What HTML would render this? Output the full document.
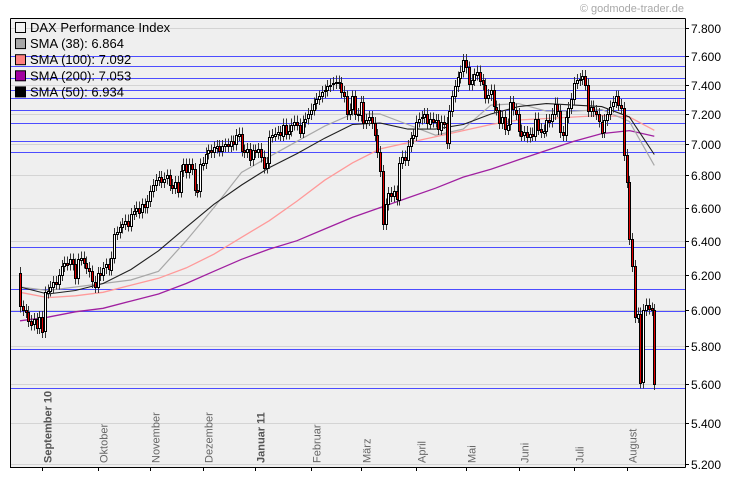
<!DOCTYPE html>
<html><head><meta charset="utf-8">
<style>
html,body{margin:0;padding:0;background:#fff;}
svg{display:block;font-family:"Liberation Sans",Arial,sans-serif;}
</style></head>
<body>
<svg id="chart" width="730" height="481" viewBox="0 0 730 481">
  <rect x="10" y="18" width="675" height="449" fill="#efefef"/>
  <g id="grid" shape-rendering="crispEdges"></g>
  <g id="blue" shape-rendering="crispEdges"></g>
  <g id="smas"></g>
  <g id="candles" shape-rendering="crispEdges"></g>
  <g id="axis" shape-rendering="crispEdges"></g>
  <g id="legend"></g>
  <text x="684" y="12" text-anchor="end" font-size="11" fill="#a8a8a8">© godmode-trader.de</text>
</svg>
<script>
const yTicks=[7800,7600,7400,7200,7000,6800,6600,6400,6200,6000,5800,5600,5400,5200];
const blueLevels=[7600,7526,7444,7363,7305,7227,7141,7020,6953,6365,6120,5993,5789,5582];
const firstOpen=6210;
const closes=[6020,6000,5990,5940,5920,5950,5900,5960,5880,6100,6110,6130,6160,6150,6200,6250,6270,6260,6290,6260,
6180,6290,6300,6270,6240,6220,6160,6130,6210,6200,6240,6260,6230,6300,6440,6450,6480,6500,6520,6490,
6560,6580,6600,6570,6620,6600,6640,6700,6740,6770,6790,6760,6780,6800,6740,6720,6760,6700,6830,6870,
6820,6870,6840,6710,6700,6870,6880,6940,6960,6950,6980,6990,6960,6990,7000,6990,7020,7000,7060,7070,
6960,6950,6970,6900,6960,6950,6970,6920,6850,6880,7050,7060,7070,7080,7060,7130,7070,7090,7130,7150,
7130,7080,7150,7170,7200,7230,7270,7300,7320,7350,7360,7390,7400,7410,7420,7410,7350,7320,7200,7230,
7320,7200,7190,7280,7140,7160,7180,7140,7060,6950,6830,6500,6620,6690,6670,6700,6650,6880,6920,6900,
6990,7040,7060,7150,7170,7180,7200,7140,7170,7150,7160,7100,7150,7140,7010,7220,7320,7390,7450,7490,
7570,7520,7400,7430,7470,7490,7430,7400,7310,7330,7360,7250,7230,7140,7180,7100,7130,7280,7230,7200,
7090,7060,7080,7050,7070,7060,7170,7100,7080,7090,7160,7150,7200,7270,7220,7080,7060,7180,7240,7300,
7410,7430,7440,7460,7400,7220,7250,7220,7200,7150,7080,7160,7200,7250,7280,7320,7260,7240,6930,6760,
6410,6250,5960,5980,5610,6000,6030,6010,6000,5600];
const smaIdx=[0,10,20,30,40,50,60,70,80,90,100,110,120,130,140,150,160,170,180,190,200,210,220,229];
const sma38=[6130,6110,6130,6150,6170,6220,6400,6600,6820,6920,7020,7120,7200,7200,7130,7060,7100,7260,7270,7220,7220,7230,7150,6864];
const sma100=[6100,6070,6080,6100,6140,6180,6240,6320,6420,6520,6640,6770,6880,6970,7010,7050,7090,7130,7160,7170,7180,7190,7180,7092];
const sma200=[5940,5960,5990,6010,6050,6090,6150,6220,6290,6350,6400,6470,6540,6600,6660,6720,6790,6840,6900,6960,7020,7070,7090,7053];
const sma50=[6130,6090,6110,6150,6230,6340,6480,6620,6740,6850,6940,7040,7130,7140,7100,7100,7130,7200,7250,7270,7260,7250,7180,6934];
const months=["September 10","Oktober","November","Dezember","Januar 11","Februar","März","April","Mai","Juni","Juli","August"];
const monthIdx=[8,28,47,66,85,105,123,143,161,180,200,219];
const monthBold=[true,false,false,false,true,false,false,false,false,false,false,false];

const NS="http://www.w3.org/2000/svg";
const Y=v=>28+Math.log(7800/v)*1075;
const X=i=>20+i*2.77;
function mk(tag,attrs,parent){const e=document.createElementNS(NS,tag);for(const k in attrs)e.setAttribute(k,attrs[k]);parent.appendChild(e);return e;}
const grid=document.getElementById('grid'),blue=document.getElementById('blue'),smas=document.getElementById('smas'),cg=document.getElementById('candles'),ax=document.getElementById('axis'),lg=document.getElementById('legend');

yTicks.forEach(v=>{
  const y=Math.round(Y(v))+0.5;
  const l=mk('line',{x1:10,x2:685,y1:y,y2:y,stroke:'#d4d4d4','stroke-width':1},grid);
  
  
  const t=mk('line',{x1:685,x2:689,y1:y,y2:y,stroke:'#000'},ax);
  
  
  const tx=mk('text',{x:691,y:y+4.5,'font-size':12,fill:'#000'},ax);
  tx.textContent=(v/1000).toFixed(3);
  
  
});
blueLevels.forEach(v=>{
  const y=Math.round(Y(v))+0.5;
  const l=mk('line',{x1:10,x2:685,y1:y,y2:y,stroke:'#4c4cff','stroke-width':1},blue);
  
  
});
function smaLine(arr,color,name,w){
  const d=arr.map((v,k)=>(k?'L':'M')+X(smaIdx[k]).toFixed(1)+','+Y(v).toFixed(1)).join(' ');
  const p=mk('path',{d:d,fill:'none',stroke:color,'stroke-width':w},smas);
  
  
}
smaLine(sma200,'#a020a0','sma-200-line',1.3);
smaLine(sma100,'#ff9a9a','sma-100-line',1.3);
smaLine(sma38,'#a8a8a8','sma-38-line',1.2);
smaLine(sma50,'#202020','sma-50-line',1.1);

closes.forEach((c,i)=>{
  const o=i?closes[i-1]:firstOpen;
  const x=Math.round(X(i));
  const yo=Y(o),yc=Y(c);
  const top=Math.min(yo,yc),bot=Math.max(yo,yc);
  const w=mk('line',{x1:x+0.5,x2:x+0.5,y1:top-6,y2:bot+6,stroke:'#333','stroke-width':1},cg);
  
  
  const r=mk('rect',{x:x-0.5,y:Math.round(top)+0.5,width:2,height:Math.max(1,Math.round(bot-top)),fill:c<o?'#e00000':'#fff',stroke:'#000','stroke-width':1},cg);
  
  
});

const fr=mk('path',{d:'M10.5,18.5 L10.5,467.5 L685.5,467.5 M685.5,18.5 L685.5,467.5 M10.5,18.5 L685.5,18.5',fill:'none',stroke:'#000','stroke-width':1},ax);



months.forEach((m,k)=>{
  const x=Math.round(X(monthIdx[k]))+0.5;
  const t=mk('line',{x1:x,x2:x,y1:467,y2:471,stroke:'#000'},ax);
  
  
  const tx=mk('text',{transform:`translate(${x+9},463) rotate(-90)`,'font-size':11,fill:monthBold[k]?'#555':'#666','font-weight':monthBold[k]?'bold':'normal'},ax);
  tx.textContent=m;
  
  
});

const legItems=[['DAX Performance Index','#f0f0f0'],['SMA (38): 6.864','#a8a8a8'],['SMA (100): 7.092','#ff8080'],['SMA (200): 7.053','#a000a0'],['SMA (50): 6.934','#000']];
legItems.forEach((it,k)=>{
  const y=22+k*16.1;
  const s=mk('rect',{x:15.5,y:y+0.5,width:10,height:10,fill:it[1],stroke:'#000'},lg);
  
  
  const t=mk('text',{x:30,y:y+10,'font-size':13,fill:'#000'},lg);
  t.textContent=it[0];
  
  
});
</script>
</body></html>
